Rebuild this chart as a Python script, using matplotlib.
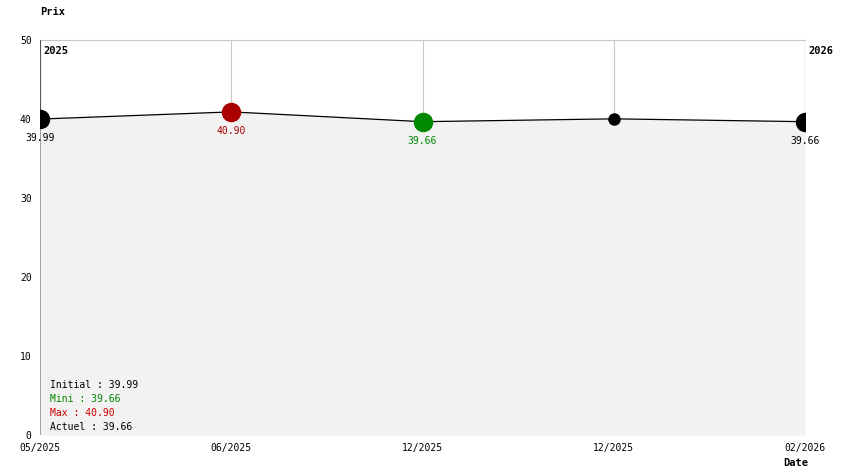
import matplotlib
matplotlib.use("Agg")
import matplotlib.pyplot as plt

dates = ["05/2025", "06/2025", "12/2025", "12/2025", "02/2026"]
prices = [39.99, 40.90, 39.66, 40.02, 39.66]
labels = ["39.99", "40.90", "39.66", "", "39.66"]
colors = ["black", "#aa0000", "#008800", "black", "black"]
sizes = [13, 13, 13, 8, 13]
yticks = [0, 10, 20, 30, 40, 50]

plt.rcParams['font.family'] = ['DejaVu Sans Mono']
fig = plt.figure(figsize=(8.44, 4.74), dpi=100)
ax = fig.add_axes([40/844, 39/474, 765/844, 395/474])
x = list(range(len(prices)))
for xi in x:
    ax.axvline(xi, color="#c8c8c8", lw=0.8, zorder=1)
ax.axvline(0, color="#555555", lw=0.8, zorder=1)
ax.axvline(4, color="#555555", lw=0.8, zorder=1)
ax.fill_between(x, prices, 0, color="#f2f2f2", zorder=1.5, lw=0)
ax.plot(x, prices, color="black", lw=0.9, zorder=2)
for xi, p, c, s, l in zip(x, prices, colors, sizes, labels):
    ax.plot(xi, p, 'o', color=c, ms=s, zorder=3)
    if l:
        ax.annotate(l, (xi, p), xytext=(0, -10), textcoords="offset points",
                    ha="center", va="top", fontsize=7, color=c)
ax.set_xlim(0, 4)
ax.set_ylim(0, 50)
ax.set_xticks(x)
ax.set_xticklabels(dates, fontsize=7)
ax.set_yticks(yticks)
ax.set_yticklabels([str(v) for v in yticks], fontsize=7)
ax.tick_params(length=0, pad=6)
for s in ["top", "right", "left", "bottom"]:
    ax.spines[s].set_color("#c8c8c8")
    ax.spines[s].set_zorder(0.5)
ax.spines["bottom"].set_visible(False)
ax.spines["left"].set_visible(False)
ax.spines["right"].set_visible(False)
ax.text(0.005, 0.985, "2025", transform=ax.transAxes, fontsize=7.5, fontweight="bold", va="top")
ax.text(1.004, 0.985, "2026", transform=ax.transAxes, fontsize=7.5, fontweight="bold", va="top")
fig.text(40/844, 1-12/474, "Prix", fontsize=7.5, fontweight="bold", va="center")
fig.text(783/844, 1-463/474, "Date", fontsize=7.5, fontweight="bold", va="center")
stats = [("Initial : 39.99", "black"), ("Mini : 39.66", "#008800"),
         ("Max : 40.90", "#cc0000"), ("Actuel : 39.66", "black")]
for i, (t, c) in enumerate(stats):
    fig.text(50/844, 1-(385+i*14)/474, t, fontsize=7, color=c, va="center")
fig.savefig("out.png", dpi=100)
